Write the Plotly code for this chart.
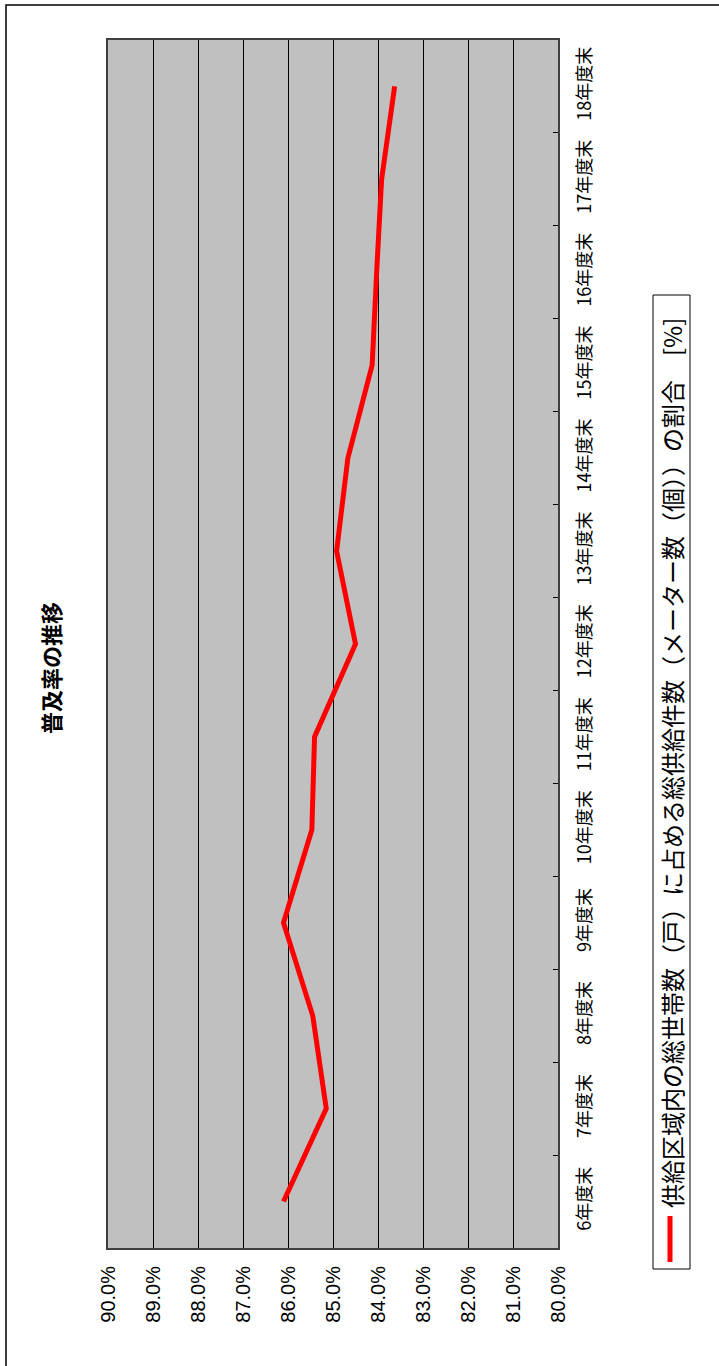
import plotly.graph_objects as go

categories = ["6年度末", "7年度末", "8年度末", "9年度末", "10年度末", "11年度末", "12年度末",
              "13年度末", "14年度末", "15年度末", "16年度末", "17年度末", "18年度末"]
values = [86.10, 85.15, 85.45, 86.10, 85.47, 85.41, 84.50, 84.92, 84.67, 84.13, 84.03, 83.92, 83.63]
value_ticks = [90, 89, 88, 87, 86, 85, 84, 83, 82, 81, 80]
series_name = "供給区域内の総世帯数（戸）に占める総供給件数（メーター数（個））の割合　[%]"
title_text = "普及率の推移"

W, H = 719, 1366
L, R, T, B = 108, 558, 40, 1248
pw, ph = R - L, B - T

def px(x):
    return (x - L) / pw

def py(y):
    return (B - y) / ph

fig = go.Figure()
fig.add_trace(go.Scatter(
    x=values, y=categories, mode="lines",
    line=dict(color="#FF0000", width=5),
    name=series_name, showlegend=False,
))

fig.update_layout(
    width=W, height=H,
    margin=dict(l=L, r=W - R, t=T, b=H - B, pad=0),
    paper_bgcolor="white",
    plot_bgcolor="#C0C0C0",
    xaxis=dict(
        range=[90, 80], tickvals=value_ticks,
        ticktext=[f"{v:.1f}%" for v in value_ticks],
        tickangle=-90, side="bottom",
        showgrid=True, gridcolor="#000000", gridwidth=1,
        zeroline=False,
        showline=True, linecolor="#404040", linewidth=2, mirror=True,
        ticks="inside", ticklen=5, tickcolor="#000000",
        tickfont=dict(family="Liberation Sans, Arial", size=20, color="#000000"),
        ticklabelstandoff=8,
    ),
    yaxis=dict(
        type="category", categoryorder="array", categoryarray=categories,
        range=[-0.5, 12.5], side="right",
        tickangle=-90, showgrid=False, zeroline=False,
        showline=True, linecolor="#404040", linewidth=2, mirror=True,
        ticks="inside", ticklen=5, tickcolor="#000000", tickson="boundaries",
        tickfont=dict(family="Noto Sans CJK JP", size=18, color="#000000"),
        ticklabelstandoff=9,
    ),
    font=dict(family="Noto Sans CJK JP", color="#000000"),
)

# title (rotated)
fig.add_annotation(
    xref="paper", yref="paper", x=px(50), y=py(668),
    text="<b>" + title_text + "</b>", textangle=-90, showarrow=False,
    font=dict(family="Noto Sans CJK JP", size=22, color="#000000"),
    xanchor="center", yanchor="middle",
)

# legend box
fig.add_shape(type="rect", xref="paper", yref="paper",
              x0=px(653), x1=px(690), y0=py(1269), y1=py(295),
              line=dict(color="#000000", width=1), fillcolor="white", layer="above")
fig.add_shape(type="line", xref="paper", yref="paper",
              x0=px(670), x1=px(670), y0=py(1262), y1=py(1216),
              line=dict(color="#FF0000", width=5), layer="above")
fig.add_annotation(
    xref="paper", yref="paper", x=px(671), y=py(1210),
    text=series_name, textangle=-90, showarrow=False,
    font=dict(family="Noto Sans CJK JP", size=24, color="#000000"),
    xanchor="center", yanchor="bottom",
)

# outer frame
fig.add_shape(type="rect", xref="paper", yref="paper",
              x0=px(6), x1=px(730), y0=py(1380), y1=py(5),
              line=dict(color="#000000", width=1.5), fillcolor="rgba(0,0,0,0)", layer="below")

fig.write_html("out.html",
               config={"displayModeBar": False},
               post_script="document.body.style.margin='0';document.body.style.overflow='hidden';")
